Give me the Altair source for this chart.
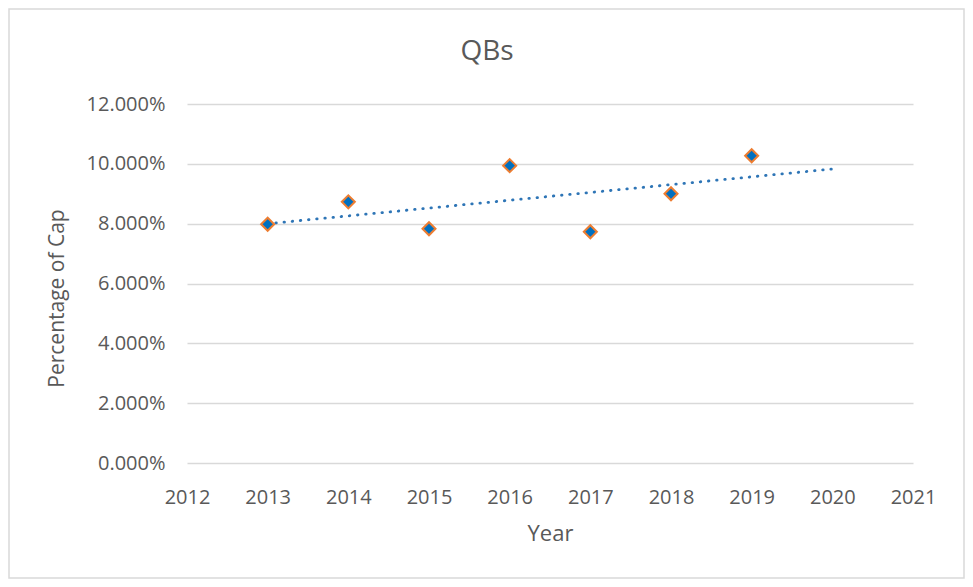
import altair as alt
import pandas as pd

years = [2013, 2014, 2015, 2016, 2017, 2018, 2019]
pct_of_cap = [0.0798, 0.0873, 0.0783, 0.0994, 0.0773, 0.0900, 0.1027]
x_ticks = [2012, 2013, 2014, 2015, 2016, 2017, 2018, 2019, 2020, 2021]
y_ticks = [0.0, 0.02, 0.04, 0.06, 0.08, 0.10, 0.12]

df = pd.DataFrame({"Year": years, "Pct": pct_of_cap})

FONT = "Open Sans"
TXT = "#595959"
GRID = "#D9D9D9"

x_enc = alt.X(
    "Year:Q",
    scale=alt.Scale(domain=[2012, 2021], nice=False, zero=False),
    axis=alt.Axis(
        values=x_ticks, format="d", title="Year", grid=False, domain=False,
        ticks=False, labelPadding=40, labelBaseline="alphabetic",
        labelFontSize=20, labelColor=TXT, labelFont=FONT,
        titleFontSize=22, titleColor=TXT, titleFont=FONT, titleFontWeight="normal",
        titleBaseline="alphabetic", titleY=77, labelFlush=False,
    ),
)
y_enc = alt.Y(
    "Pct:Q",
    scale=alt.Scale(domain=[0, 0.12], nice=False),
    axis=alt.Axis(
        values=y_ticks, format=".3%", title="Percentage of Cap", grid=True,
        gridColor=GRID, gridWidth=1.5, domain=False, ticks=False,
        labelPadding=22, labelFontSize=20, labelColor=TXT, labelFont=FONT,
        titleFontSize=21, titleColor=TXT, titleFont=FONT, titleFontWeight="normal",
        titleAngle=270, titleBaseline="alphabetic", titleX=-124, titleY=194,
        titleAlign="center", labelFlush=False,
    ),
)

base = alt.Chart(df)

border = base.mark_rect(fillOpacity=0, stroke=GRID, strokeWidth=1.5).encode(
    x=alt.value(-178), x2=alt.value(777), y=alt.value(-95), y2=alt.value(474)
).transform_filter(alt.datum.Year == 2013)

trend = base.transform_regression("Year", "Pct", extent=[2013, 2020]).mark_line(
    color="#2E75B6", strokeWidth=2.8, strokeDash=[0.5, 7.7], strokeCap="round"
).encode(x=x_enc, y=y_enc)

points = base.mark_point(
    shape="diamond", filled=True, fill="#0070C0", stroke="#ED7D31",
    strokeWidth=2, size=170, opacity=1,
).encode(x=x_enc, y=y_enc)

chart = alt.layer(border, trend, points).properties(
    width=726,
    height=359,
    autosize=alt.AutoSizeParams(type="none"),
    padding={"left": 179, "top": 96, "right": 52, "bottom": 116},
    title=alt.TitleParams(
        "QBs", fontSize=28, font=FONT, color=TXT, fontWeight="normal",
        anchor="middle", dx=-63, baseline="alphabetic", offset=0, dy=80,
    ),
).configure_view(stroke=None)

chart.save("out.html", embed_options={"renderer": "svg", "actions": False})
